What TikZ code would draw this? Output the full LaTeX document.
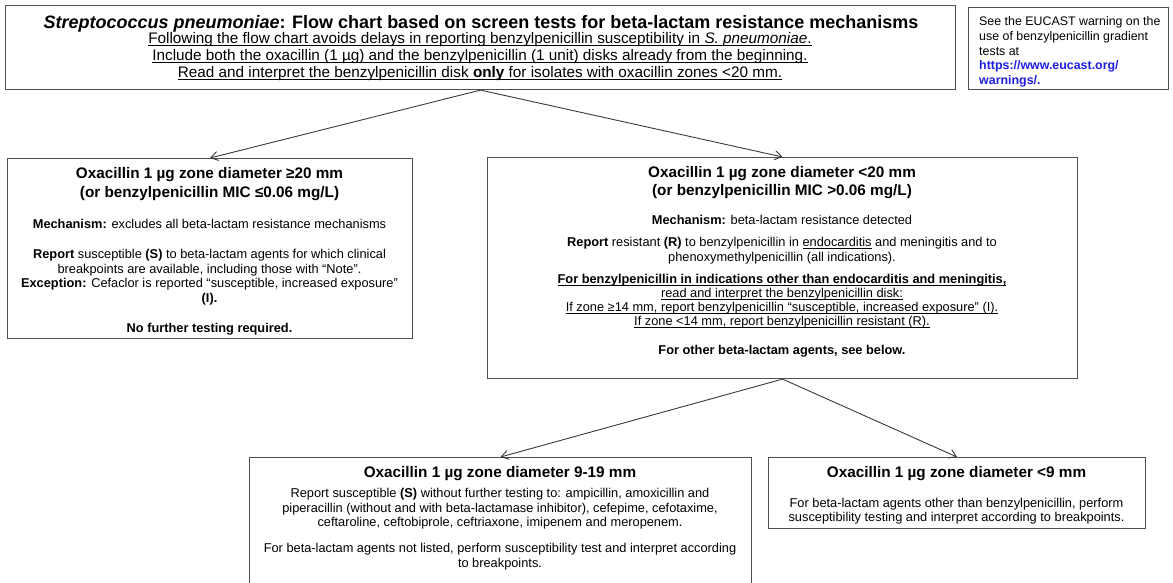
\documentclass[tikz,border=0pt]{standalone}
\usepackage{fontspec}
\setmainfont{Liberation Sans}
\usetikzlibrary{arrows.meta}
\definecolor{linkblue}{HTML}{1F1FE0}
\definecolor{boxline}{HTML}{505050}
\definecolor{arrowline}{HTML}{3A3A3A}
\newsavebox{\ulbox}
\newcommand{\myul}[1]{\sbox{\ulbox}{#1}\rlap{\rule[-2.1pt]{\wd\ulbox}{0.75pt}}\usebox{\ulbox}}
\begin{document}
\begin{tikzpicture}[x=1pt,y=-1pt,
  box/.style={draw=boxline,line width=1.1pt,rectangle,inner sep=0pt,anchor=north west,fill=white},
  head/.style={anchor=base,inner sep=0pt,align=center,font=\fontsize{15.3}{19}\selectfont\bfseries},
  body/.style={anchor=base,inner sep=0pt,align=center,font=\fontsize{12.8}{14.7}\selectfont},
  conn/.style={draw=arrowline,line width=0.9pt,-{Straight Barb[length=7pt,width=9pt]}}]
\useasboundingbox (0,0) rectangle (1173,583);
\fill[white] (0,0) rectangle (1173,583);

% top box
\node[box,minimum width=950pt,minimum height=84pt] (T) at (5,5) {};
\node[anchor=base,inner sep=0pt,font=\fontsize{18}{20}\selectfont\bfseries] (T1) at (481,28.5)
  {\textit{Streptococcus pneumoniae}: Flow chart based on screen tests for beta-lactam resistance mechanisms};
\node[body,font=\fontsize{15.3}{17}\selectfont] (T2) at (480,77.5)
  {\myul{Following the flow chart avoids delays in reporting benzylpenicillin susceptibility in \textit{S. pneumoniae}.}\\
   \myul{Include both the oxacillin (1 µg) and the benzylpenicillin (1 unit) disks already from the beginning.}\\
   \myul{Read and interpret the benzylpenicillin disk \textbf{only} for isolates with oxacillin zones <20 mm.}};

% side box
\node[box,minimum width=200pt,minimum height=82pt] (S) at (968,7) {};
\node[anchor=base west,inner sep=0pt,align=left,font=\fontsize{12.4}{14.6}\selectfont] (S1) at (979,84.4)
  {See the EUCAST warning on the\\use of benzylpenicillin gradient\\tests at\\
   \textcolor{linkblue}{\textbf{https://www.eucast.org/}}\\\textcolor{linkblue}{\textbf{warnings/.}}};

% box A
\node[box,minimum width=405pt,minimum height=180pt] (A) at (7,158) {};
\node[head] (A1) at (209.5,197.2) {Oxacillin 1 µg zone diameter ≥20 mm\\(or benzylpenicillin MIC ≤0.06 mg/L)};
\node[body] (A2) at (209.5,228.6) {\textbf{Mechanism:} excludes all beta-lactam resistance mechanisms};
\node[body] (A3) at (209.5,302.6) {\textbf{Report} susceptible \textbf{(S)} to beta-lactam agents for which clinical\\
  breakpoints are available, including those with “Note”.\\
  \textbf{Exception:} Cefaclor is reported “susceptible, increased exposure”\\\textbf{(I).}};
\node[body] (A4) at (209.5,332.6) {\textbf{No further testing required.}};

% box B
\node[box,minimum width=590pt,minimum height=221pt] (B) at (487,157) {};
\node[head,font=\fontsize{15.3}{18}\selectfont\bfseries] (B1) at (782,195.5) {Oxacillin 1 µg zone diameter <20 mm\\(or benzylpenicillin MIC >0.06 mg/L)};
\node[body] (B2) at (782,224.6) {\textbf{Mechanism:} beta-lactam resistance detected};
\node[body,font=\fontsize{12.8}{15}\selectfont] (B3) at (782,261.3) {\textbf{Report} resistant \textbf{(R)} to benzylpenicillin in \myul{endocarditis} and meningitis and to\\
  phenoxymethylpenicillin (all indications).};
\node[body,font=\fontsize{12.8}{14}\selectfont] (B4) at (782,325.5) {\myul{\textbf{For benzylpenicillin in indications other than endocarditis and meningitis,}}\\
  \myul{read and interpret the benzylpenicillin disk:}\\
  \myul{If zone ≥14 mm, report benzylpenicillin “susceptible, increased exposure” (I).}\\
  \myul{If zone <14 mm, report benzylpenicillin resistant (R).}};
\node[body] (B5) at (782,354.6) {\textbf{For other beta-lactam agents, see below.}};

% box C
\node[box,minimum width=502pt,minimum height=140pt] (C) at (249,457) {};
\node[head] (C1) at (500,477.5) {Oxacillin 1 µg zone diameter 9-19 mm};
\node[body,font=\fontsize{12.8}{14.5}\selectfont] (C2) at (500,526.6) {Report susceptible \textbf{(S)} without further testing to: ampicillin, amoxicillin and\\
  piperacillin (without and with beta-lactamase inhibitor), cefepime, cefotaxime,\\
  ceftaroline, ceftobiprole, ceftriaxone, imipenem and meropenem.};
\node[body,font=\fontsize{12.8}{15.5}\selectfont] (C3) at (500,567.5) {For beta-lactam agents not listed, perform susceptibility test and interpret according\\to breakpoints.};

% box D
\node[box,minimum width=377pt,minimum height=71pt] (D) at (768,457) {};
\node[head] (D1) at (956.5,477.5) {Oxacillin 1 µg zone diameter <9 mm};
\node[body,font=\fontsize{12.8}{14}\selectfont] (D2) at (956.5,521.6) {For beta-lactam agents other than benzylpenicillin, perform\\
  susceptibility testing and interpret according to breakpoints.};

% connectors
\draw[conn] (T.south) -- (A.north);
\draw[conn] (T.south) -- (B.north);
\draw[conn] (B.south) -- (C.north);
\draw[conn] (B.south) -- (D.north);
\end{tikzpicture}
\end{document}
